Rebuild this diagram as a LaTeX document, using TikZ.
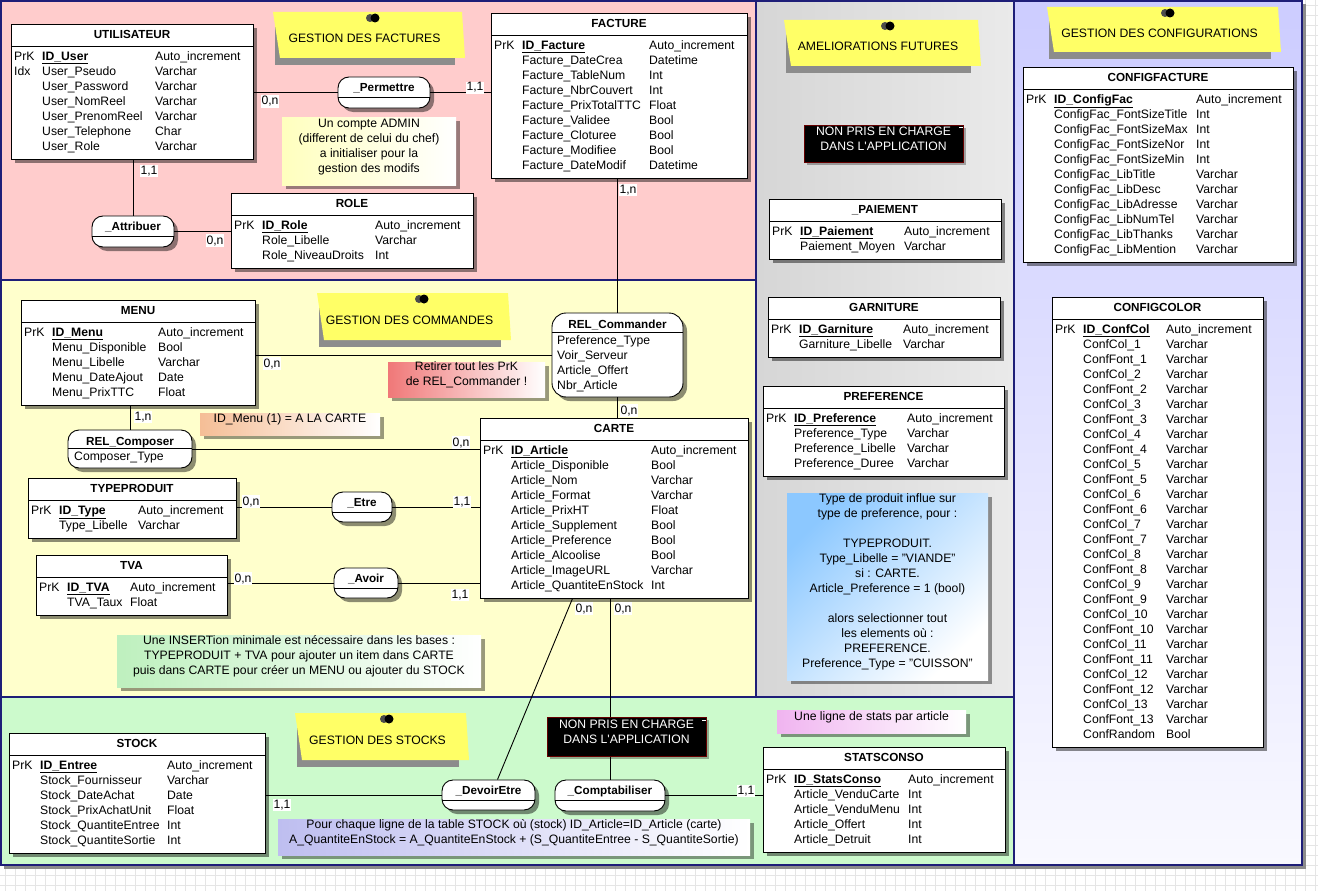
\documentclass[tikz,border=0pt]{standalone}
\usepackage{fontspec}
\setmainfont{Liberation Sans}
\usetikzlibrary{fit,shadows}
\setlength\tabcolsep{0pt}

\definecolor{rose}{RGB}{255,204,204}
\definecolor{jaune}{RGB}{255,255,204}
\definecolor{vert}{RGB}{204,250,204}
\definecolor{gris1}{RGB}{214,214,214}
\definecolor{gris2}{RGB}{234,234,234}
\definecolor{lavande}{RGB}{204,204,255}
\definecolor{marine}{RGB}{30,30,120}
\definecolor{postitjaune}{RGB}{255,255,102}
\definecolor{noteadmin}{RGB}{255,255,190}
\definecolor{noteorange}{RGB}{245,190,150}
\definecolor{noterouge}{RGB}{240,120,120}
\definecolor{notevert}{RGB}{190,240,190}
\definecolor{notebleu}{RGB}{140,200,255}
\definecolor{notemauve}{RGB}{240,180,240}
\definecolor{notelavande}{RGB}{190,190,240}

\tikzset{
	tbl/.style={draw, fill=white, inner sep=0pt, line width=0.9pt, drop shadow={shadow xshift=4pt, shadow yshift=-4pt, fill=black, opacity=.45}},
	ttl/.style={font=\fontsize{11.7}{15}\selectfont\bfseries, inner sep=0pt, anchor=base},
	lignes/.style={anchor=north west, inner sep=0pt},
	rel/.style={tbl, rounded corners=11pt},
	lien/.style={line width=0.9pt},
	card/.style={fill=white, inner sep=1pt, anchor=base},
	pensee/.style={inner sep=0pt, align=center, drop shadow={shadow xshift=4pt, shadow yshift=-4pt, fill=black, opacity=.4}},
	nonpris/.style={draw=red!40!black, fill=black, text=white, line width=1pt, inner sep=0pt, align=center, drop shadow={shadow xshift=3pt, shadow yshift=-3pt, fill=black, opacity=.3}},
	bord/.style={draw=marine, line width=2pt},
	grille/.style={black!10, line width=0.5pt}
}

\newcommand\pk[1]{\underline{\textbf{#1}}}
\def\entite(#1)(#2,#3)(#4,#5)#6#7#8{%
	\node[tbl, fit={(#2,#3) (#4,#5)}] (#1) {};
	\draw[line width=0.9pt] (#2,#3+22) -- (#4,#3+22);
	\node[ttl] (#1-t) at ({(#2+#4)/2},#3+14.5) {#6};
	\node[lignes] (#1-r) at (#2+3,#3+26) {\begin{tabular}{p{28pt}p{#7pt}l}#8\end{tabular}};}
\def\assoc(#1)(#2,#3)(#4,#5)#6{%
	\node[rel, fit={(#2,#3) (#4,#5)}] (#1) {};
	\draw[line width=0.9pt] (#2,#3+20) -- (#4,#3+20);
	\node[ttl] (#1-t) at ({(#2+#4)/2},#3+14.5) {#6};}
\def\postit(#1)(#2,#3)(#4,#5)#6#7{%
	\fill[black!45] (#2+2,#3+10) rectangle (#4-7,#5+7);
	\fill[postitjaune] (#2,#3) -- (#4,#3) -- (#4+3,#5) -- (#2+7,#5) -- cycle;
	\fill[black!70] (#6-3,#3+6) circle (4);
	\fill[black] (#6+2,#3+6) circle (4.5);
	\node[anchor=base, inner sep=0pt] (#1) at ({(#2+#4)/2-3},#3+31) {#7};}
\def\pensebete(#1)(#2,#3)(#4,#5)#6#7{%
	\node[pensee, left color=#6, right color=white, fit={(#2,#3) (#4,#5)}] (#1) {#7};}

\begin{document}
\begin{tikzpicture}[x=1pt,y=-1pt,font=\fontsize{12.2}{15}\selectfont]
	%%%%% START %%%%%
	\useasboundingbox (0,0) rectangle (1318,891);
	\fill[white] (0,0) rectangle (1318,891);
	\foreach \gx in {5,15,...,1315} \draw[grille] (\gx,0) -- (\gx,891);
	\foreach \gy in {5,15,...,885} \draw[grille] (0,\gy) -- (1318,\gy);
	
	% zones
	\fill[black!45] (4,4) rectangle (1306,869);
	\fill[rose] (0,0) rectangle (756,280);
	\fill[jaune] (0,281) rectangle (756,697);
	\shade[left color=gris1, right color=gris2] (757,0) rectangle (1014,697);
	\shade[top color=lavande, bottom color=lavande!12] (1015,0) rectangle (1302,865);
	\fill[vert] (0,698) rectangle (1014,865);
	\draw[bord] (1,1) rectangle (756,280);
	\draw[bord] (1,280) rectangle (756,697);
	\draw[bord] (756,1) rectangle (1014,697);
	\draw[bord] (1014,1) rectangle (1302,865);
	\draw[bord] (1,697) rectangle (1014,865);
	
	\postit(gfact)(273,12)(462,58){373}{GESTION DES FACTURES}
	\postit(gcomm)(317,293)(508,340){422}{GESTION DES COMMANDES}
	\postit(gamel)(784,20)(978,66){888}{AMELIORATIONS FUTURES}
	\postit(gconf)(1047,7)(1278,52){1168}{GESTION DES CONFIGURATIONS}
	\postit(gstock)(295,713)(466,760){387}{GESTION DES STOCKS}
	
	\pensebete(nadmin)(282,117)(456,185){noteadmin}{Un compte ADMIN\\(different de celui du chef)\\a initialiser pour la\\gestion des modifs}
	\pensebete(nmenu)(200,413)(380,435){noteorange}{ID\_Menu (1) = A LA CARTE}
	\pensebete(nretirer)(388,362)(545,397){noterouge}{Retirer tout les PrK\\de REL\_Commander !}
	\pensebete(ninsert)(117,635)(481,687){notevert}{Une INSERTion minimale est nécessaire dans les bases :\\TYPEPRODUIT + TVA pour ajouter un item dans CARTE\\puis dans CARTE pour créer un MENU ou ajouter du STOCK}
	\node[pensee, left color=notebleu, right color=white, shading angle=45, fit={(787,493) (988,680)}] (npref) {Type de produit influe sur\\type de preference, pour :\\[15pt]TYPEPRODUIT.\\Type\_Libelle = "VIANDE"\\si : CARTE.\\Article\_Preference = 1 (bool)\\[15pt]alors selectionner tout\\les elements où :\\PREFERENCE.\\Preference\_Type = "CUISSON"};
	\pensebete(nstats)(777,710)(966,733){notemauve}{Une ligne de stats par article}
	\pensebete(nstock)(278,819)(750,855){notelavande}{Pour chaque ligne de la table STOCK où (stock) ID\_Article=ID\_Article (carte)\\A\_QuantiteEnStock = A\_QuantiteEnStock + (S\_QuantiteEntree - S\_QuantiteSortie)}
	
	\node[nonpris, fit={(804,125) (963,162)}] (nonpris1) {NON PRIS EN CHARGE\\DANS L\textquotesingle APPLICATION};
	\draw[white, line width=1pt] (959,127) -- (963,127);
	
	\entite(utilisateur)(11,24)(253,159){UTILISATEUR}{113}{%
		PrK & \pk{ID\_User} & Auto\_increment\\
		Idx & User\_Pseudo & Varchar\\
		& User\_Password & Varchar\\
		& User\_NomReel & Varchar\\
		& User\_PrenomReel & Varchar\\
		& User\_Telephone & Char\\
		& User\_Role & Varchar}
	\entite(facture)(491,13)(747,178){FACTURE}{127}{%
		PrK & \pk{ID\_Facture} & Auto\_increment\\
		& Facture\_DateCrea & Datetime\\
		& Facture\_TableNum & Int\\
		& Facture\_NbrCouvert & Int\\
		& Facture\_PrixTotalTTC & Float\\
		& Facture\_Validee & Bool\\
		& Facture\_Cloturee & Bool\\
		& Facture\_Modifiee & Bool\\
		& Facture\_DateModif & Datetime}
	\entite(role)(231,193)(473,268){ROLE}{113}{%
		PrK & \pk{ID\_Role} & Auto\_increment\\
		& Role\_Libelle & Varchar\\
		& Role\_NiveauDroits & Int}
	\entite(menu)(21,300)(255,405){MENU}{106}{%
		PrK & \pk{ID\_Menu} & Auto\_increment\\
		& Menu\_Disponible & Bool\\
		& Menu\_Libelle & Varchar\\
		& Menu\_DateAjout & Date\\
		& Menu\_PrixTTC & Float}
	\entite(carte)(480,418)(748,598){CARTE}{140}{%
		PrK & \pk{ID\_Article} & Auto\_increment\\
		& Article\_Disponible & Bool\\
		& Article\_Nom & Varchar\\
		& Article\_Format & Varchar\\
		& Article\_PrixHT & Float\\
		& Article\_Supplement & Bool\\
		& Article\_Preference & Bool\\
		& Article\_Alcoolise & Bool\\
		& Article\_ImageURL & Varchar\\
		& Article\_QuantiteEnStock & Int}
	\entite(typeproduit)(28,478)(236,538){TYPEPRODUIT}{79}{%
		PrK & \pk{ID\_Type} & Auto\_increment\\
		& Type\_Libelle & Varchar}
	\entite(tva)(36,555)(227,615){TVA}{63}{%
		PrK & \pk{ID\_TVA} & Auto\_increment\\
		& TVA\_Taux & Float}
	\entite(stock)(9,733)(265,853){STOCK}{127}{%
		PrK & \pk{ID\_Entree} & Auto\_increment\\
		& Stock\_Fournisseur & Varchar\\
		& Stock\_DateAchat & Date\\
		& Stock\_PrixAchatUnit & Float\\
		& Stock\_QuantiteEntree & Int\\
		& Stock\_QuantiteSortie & Int}
	\entite(statsconso)(763,747)(1005,852){STATSCONSO}{114}{%
		PrK & \pk{ID\_StatsConso} & Auto\_increment\\
		& Article\_VenduCarte & Int\\
		& Article\_VenduMenu & Int\\
		& Article\_Offert & Int\\
		& Article\_Detruit & Int}
	\entite(paiement)(769,199)(1001,259){\_PAIEMENT}{104}{%
		PrK & \pk{ID\_Paiement} & Auto\_increment\\
		& Paiement\_Moyen & Varchar}
	\entite(garniture)(768,297)(1000,357){GARNITURE}{104}{%
		PrK & \pk{ID\_Garniture} & Auto\_increment\\
		& Garniture\_Libelle & Varchar}
	\entite(preference)(763,386)(1004,476){PREFERENCE}{113}{%
		PrK & \pk{ID\_Preference} & Auto\_increment\\
		& Preference\_Type & Varchar\\
		& Preference\_Libelle & Varchar\\
		& Preference\_Duree & Varchar}
	\entite(configfacture)(1023,67)(1293,262){CONFIGFACTURE}{142}{%
		PrK & \pk{ID\_ConfigFac} & Auto\_increment\\
		& ConfigFac\_FontSizeTitle & Int\\
		& ConfigFac\_FontSizeMax & Int\\
		& ConfigFac\_FontSizeNor & Int\\
		& ConfigFac\_FontSizeMin & Int\\
		& ConfigFac\_LibTitle & Varchar\\
		& ConfigFac\_LibDesc & Varchar\\
		& ConfigFac\_LibAdresse & Varchar\\
		& ConfigFac\_LibNumTel & Varchar\\
		& ConfigFac\_LibThanks & Varchar\\
		& ConfigFac\_LibMention & Varchar}
	\entite(configcolor)(1052,297)(1263,747){CONFIGCOLOR}{83}{%
		PrK & \pk{ID\_ConfCol} & Auto\_increment\\
		& ConfCol\_1 & Varchar\\ & ConfFont\_1 & Varchar\\
		& ConfCol\_2 & Varchar\\ & ConfFont\_2 & Varchar\\
		& ConfCol\_3 & Varchar\\ & ConfFont\_3 & Varchar\\
		& ConfCol\_4 & Varchar\\ & ConfFont\_4 & Varchar\\
		& ConfCol\_5 & Varchar\\ & ConfFont\_5 & Varchar\\
		& ConfCol\_6 & Varchar\\ & ConfFont\_6 & Varchar\\
		& ConfCol\_7 & Varchar\\ & ConfFont\_7 & Varchar\\
		& ConfCol\_8 & Varchar\\ & ConfFont\_8 & Varchar\\
		& ConfCol\_9 & Varchar\\ & ConfFont\_9 & Varchar\\
		& ConfCol\_10 & Varchar\\ & ConfFont\_10 & Varchar\\
		& ConfCol\_11 & Varchar\\ & ConfFont\_11 & Varchar\\
		& ConfCol\_12 & Varchar\\ & ConfFont\_12 & Varchar\\
		& ConfCol\_13 & Varchar\\ & ConfFont\_13 & Varchar\\
		& ConfRandom & Bool}
	
	\assoc(permettre)(338,77)(430,108){\_Permettre}
	\assoc(attribuer)(92,216)(174,247){\_Attribuer}
	\assoc(etre)(332,492)(392,522){\_Etre}
	\assoc(avoir)(334,568)(398,598){\_Avoir}
	\assoc(devoiretre)(442,780)(535,810){\_DevoirEtre}
	\assoc(comptabiliser)(555,780)(665,811){\_Comptabiliser}
	
	\node[rel, fit={(68,430) (192,468)}] (composer) {};
	\draw[line width=0.9pt] (68,448) -- (192,448);
	\node[ttl] (composer-t) at (130,445) {REL\_Composer};
	\node[lignes] (composer-a) at (74,450) {\begin{tabular}{l}Composer\_Type\end{tabular}};
	
	\node[rel, rounded corners=14pt, fit={(552,313) (683,397)}] (commander) {};
	\draw[line width=0.9pt] (552,332) -- (683,332);
	\node[ttl] (commander-t) at (617.5,328.5) {REL\_Commander};
	\node[lignes] (commander-a) at (557,334) {\begin{tabular}{l}Preference\_Type\\Voir\_Serveur\\Article\_Offert\\Nbr\_Article\end{tabular}};
	
	\draw[lien] (utilisateur.east |- permettre.west) -- (permettre.west);
	\draw[lien] (permettre.east) -- (permettre.east -| facture.west);
	\draw[lien] (attribuer.north) -- (attribuer.north |- utilisateur.south);
	\draw[lien] (attribuer.east) -- (attribuer.east -| role.west);
	\draw[lien] (commander.north) -- (commander.north |- facture.south);
	\draw[lien] (commander.south) -- (commander.south |- carte.north);
	\draw[lien] (menu.east |- commander.west) -- (commander.west);
	\draw[lien] (composer.north) -- (composer.north |- menu.south);
	\draw[lien] (composer.east) -- (composer.east -| carte.west);
	\draw[lien] (typeproduit.east |- etre.west) -- (etre.west);
	\draw[lien] (etre.east) -- (etre.east -| carte.west);
	\draw[lien] (tva.east |- avoir.west) -- (avoir.west);
	\draw[lien] (avoir.east) -- (avoir.east -| carte.west);
	\draw[lien] ([xshift=93pt]carte.south west) -- ([xshift=9pt]devoiretre.north);
	\draw[lien] (comptabiliser.north) -- (comptabiliser.north |- carte.south);
	\draw[lien] (comptabiliser.east) -- (comptabiliser.east -| statsconso.west);
	\draw[lien] (devoiretre.west) -- (devoiretre.west -| stock.east);
	
	\node[card] (c1) at (270,105) {0,n};
	\node[card] (c2) at (475,91) {1,1};
	\node[card] (c3) at (149,174) {1,1};
	\node[card] (c4) at (215,244) {0,n};
	\node[card] (c5) at (628,193) {1,n};
	\node[card] (c6) at (272,367) {0,n};
	\node[card] (c7) at (143,420) {1,n};
	\node[card] (c8) at (461,446) {0,n};
	\node[card] (c9) at (251,505) {0,n};
	\node[card] (c10) at (462,505) {1,1};
	\node[card] (c11) at (243,582) {0,n};
	\node[card] (c12) at (460,598) {1,1};
	\node[card] (c13) at (629,414) {0,n};
	\node[card] (c14) at (584,612) {0,n};
	\node[card] (c15) at (623,612) {0,n};
	\node[card] (c16) at (282,808) {1,1};
	\node[card] (c17) at (746,794) {1,1};
	
	\node[nonpris, fit={(547,717) (706,756)}] (nonpris2) {NON PRIS EN CHARGE\\DANS L\textquotesingle APPLICATION};
	\draw[white, line width=1pt] (702,720) -- (706,720);
	
	%%%%% END %%%%%
\end{tikzpicture}
\end{document}
